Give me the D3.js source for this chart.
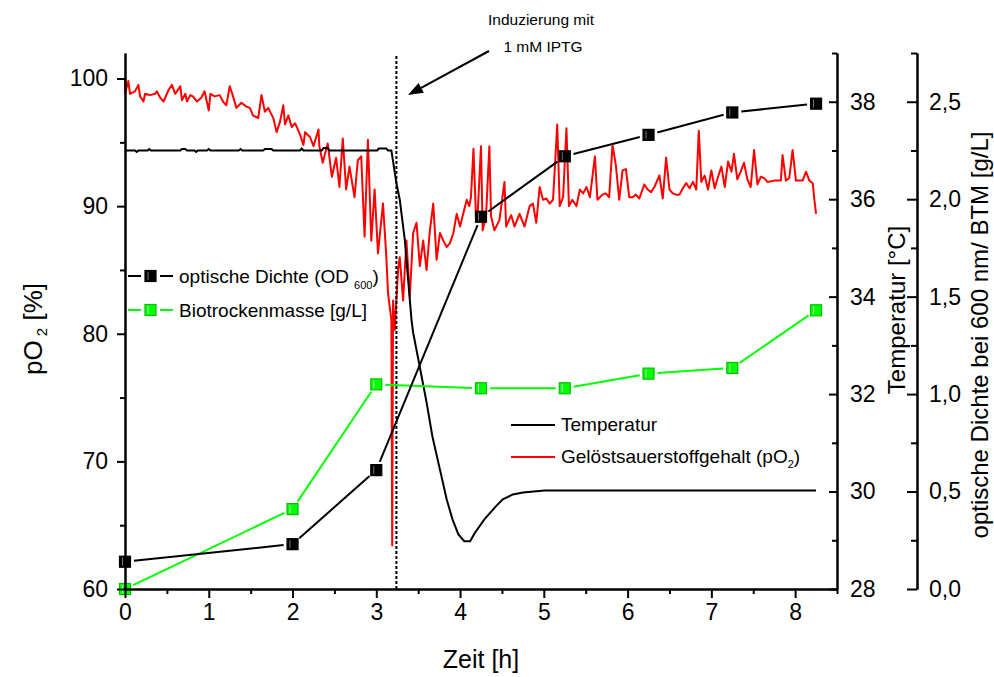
<!DOCTYPE html>
<html><head><meta charset="utf-8">
<script src="https://cdn.jsdelivr.net/npm/d3@7"></script>
<style>
body{margin:0;background:#fff}
svg{font-family:"Liberation Sans",Arial,sans-serif;display:block}
</style>
</head><body>
<svg id="chart" width="994" height="677"></svg>
<script>
// ---------- data ----------
const sampleTimes = [0, 2, 3, 4.25, 5.25, 6.25, 7.25, 8.25];
const odValues    = [0.14, 0.23, 0.61, 1.91, 2.22, 2.33, 2.445, 2.49];
const btmValues   = [0.0, 0.41, 1.05, 1.03, 1.03, 1.105, 1.134, 1.43];

const temperature = [
 [0,37.0],[0.12,37.0],[0.14,36.97],[0.16,37.0],[0.27,37.0],[0.29,37.03],[0.31,37.0],
 [0.66,37.0],[0.68,37.03],[0.72,37.03],[0.74,37.0],[0.83,37.0],[0.85,36.97],[0.87,37.0],
 [0.98,37.0],[1.0,37.03],[1.02,37.0],[1.36,37.0],[1.38,37.03],[1.40,37.0],
 [1.65,37.0],[1.67,37.03],[1.75,37.03],[1.77,37.0],[2.09,37.0],[2.11,37.04],[2.13,37.0],
 [2.35,37.0],[2.37,37.05],[2.42,37.05],[2.44,37.0],[3.01,37.0],[3.03,37.04],[3.12,37.04],[3.14,37.0],
 [3.18,37.0],[3.24,36.33],[3.28,35.99],[3.34,35.17],[3.40,33.94],[3.42,33.53],[3.44,33.26],
 [3.52,32.55],[3.60,31.83],[3.67,31.13],[3.76,30.45],[3.84,29.84],[3.91,29.43],[3.98,29.12],
 [4.05,28.98],[4.12,28.98],[4.18,29.16],[4.29,29.43],[4.43,29.70],[4.51,29.84],[4.63,29.94],
 [4.75,29.98],[5.01,30.02],[8.25,30.02]
];

const po2 = [
 [0,99.9],[0,98.8],[0.04,99.8],[0.06,98.8],[0.12,99.0],[0.16,99.5],[0.18,98.6],[0.22,98.2],
 [0.24,98.8],[0.30,98.7],[0.36,98.8],[0.38,99.0],[0.42,98.5],[0.46,98.2],[0.52,99.1],[0.56,99.5],
 [0.60,98.8],[0.66,99.4],[0.68,98.3],[0.72,98.8],[0.74,98.2],[0.78,98.7],[0.81,98.6],[0.86,98.2],
 [0.91,98.5],[0.95,99.0],[1.00,97.5],[1.02,98.8],[1.07,98.6],[1.13,98.7],[1.17,98.2],[1.21,97.9],
 [1.25,99.4],[1.29,98.6],[1.33,97.7],[1.39,98.1],[1.45,97.8],[1.49,97.7],[1.53,97.1],[1.59,96.9],
 [1.63,98.7],[1.67,97.4],[1.71,97.7],[1.77,96.9],[1.81,95.8],[1.85,96.6],[1.89,97.9],[1.91,96.4],
 [1.95,97.1],[1.99,96.2],[2.03,96.5],[2.09,95.6],[2.13,94.8],[2.15,95.8],[2.21,95.4],[2.25,94.7],
 [2.31,96.0],[2.32,94.7],[2.36,93.4],[2.42,94.9],[2.47,92.3],[2.52,93.8],[2.56,91.5],[2.60,95.3],
 [2.64,91.3],[2.68,93.1],[2.74,90.7],[2.78,93.6],[2.82,93.9],[2.86,87.6],[2.90,95.2],[2.94,87.3],
 [2.98,91.3],[3.02,86.3],[3.08,90.2],[3.12,86.0],[3.14,83.2],[3.16,82.1],[3.18,81.1],[3.19,63.4],
 [3.20,82.6],[3.22,80.3],[3.26,85.0],[3.28,86.0],[3.32,82.6],[3.36,87.3],[3.40,82.9],[3.44,87.9],
 [3.48,88.7],[3.52,85.3],[3.56,87.3],[3.60,85.0],[3.64,88.1],[3.68,90.2],[3.72,85.8],[3.76,87.9],
 [3.80,87.3],[3.84,86.8],[3.88,87.1],[3.92,87.9],[3.96,89.4],[4.00,88.4],[4.03,89.2],[4.08,90.5],
 [4.11,90.0],[4.13,90.7],[4.16,94.5],[4.19,89.2],[4.21,89.4],[4.25,94.7],[4.27,88.1],[4.31,89.2],
 [4.35,94.7],[4.37,89.2],[4.41,88.1],[4.47,88.9],[4.53,91.9],[4.55,88.4],[4.61,89.3],[4.65,88.4],
 [4.71,89.4],[4.77,88.4],[4.83,90.0],[4.87,90.2],[4.91,88.7],[4.95,91.5],[4.99,90.5],[5.03,90.6],
 [5.07,90.2],[5.11,90.5],[5.16,96.4],[5.19,90.0],[5.23,90.7],[5.27,96.1],[5.30,90.0],[5.34,90.5],
 [5.39,90.0],[5.43,91.3],[5.47,91.0],[5.51,91.5],[5.55,90.7],[5.61,93.9],[5.64,90.5],[5.70,90.9],
 [5.74,91.0],[5.78,90.7],[5.82,94.8],[5.86,93.2],[5.90,90.5],[5.94,92.8],[5.98,92.9],[6.02,90.7],
 [6.06,90.7],[6.10,90.9],[6.14,90.6],[6.20,91.7],[6.24,91.3],[6.28,91.1],[6.32,91.5],[6.38,92.4],
 [6.42,90.6],[6.46,93.8],[6.50,91.3],[6.54,91.0],[6.58,90.9],[6.62,90.9],[6.66,91.4],[6.70,91.8],
 [6.74,91.4],[6.78,91.9],[6.82,91.3],[6.85,95.9],[6.88,91.9],[6.92,92.4],[6.96,91.3],[7.00,92.8],
 [7.04,91.4],[7.08,92.3],[7.12,93.1],[7.16,91.5],[7.20,93.5],[7.24,92.7],[7.27,94.1],[7.31,92.1],
 [7.35,92.7],[7.39,93.4],[7.43,92.1],[7.47,91.5],[7.51,94.4],[7.55,91.7],[7.59,92.3],[7.63,92.2],
 [7.67,91.9],[7.75,92.0],[7.83,92.0],[7.85,94.0],[7.89,92.0],[7.93,92.2],[7.97,94.4],[8.01,92.0],
 [8.09,92.0],[8.13,92.7],[8.17,92.0],[8.21,91.8],[8.23,90.5],[8.25,89.4]
];

const inductionTime = 3.24;
const xMajorTicks = [0,1,2,3,4,5,6,7,8];
const xMinorTicks = [0.5,1.5,2.5,3.5,4.5,5.5,6.5,7.5,8.5];
const po2MajorTicks = [60,70,80,90,100];
const po2MinorTicks = [65,75,85,95];
const tempMajorTicks = [28,30,32,34,36,38];
const tempMinorTicks = [29,31,33,35,37,39];
const odMajorTicks = [0,0.5,1.0,1.5,2.0,2.5];
const odMinorTicks = [0.25,0.75,1.25,1.75,2.25,2.75];

// ---------- layout ----------
const svg = d3.select("#chart");
const L = 125, R = 837, T = 53, B = 589, ODX = 917;
const x = d3.scaleLinear([0, 8.5], [L, R]);
const yP = d3.scaleLinear([60, 102], [B, T]);
const yT = d3.scaleLinear([28, 39], [B, T]);
const yOD = d3.scaleLinear([0, 2.75], [B, T]);
const fmtComma = d => d3.format(".1f")(d).replace(".", ",");

const FONT_TICK = 23, FONT_TITLE = 26, FONT_LEG = 19;

function styleAxis(g, labels) {
  g.selectAll("path,line").attr("stroke", "#000").attr("stroke-width", 2);
  g.selectAll("text").attr("font-size", FONT_TICK).attr("fill", "#000")
   .attr("font-family", '"Liberation Sans",Arial,sans-serif');
  if (!labels) g.selectAll("text").remove();
  g.attr("font-family", null);
}

// ---------- curves ----------
const pLine = d3.line().x(d => x(d[0])).y(d => yP(d[1]));
svg.append("path").datum(po2).attr("d", pLine)
  .attr("fill", "none").attr("stroke", "#ff0000").attr("stroke-width", 2).attr("stroke-linejoin", "round");

const tLine = d3.line().x(d => x(d[0])).y(d => yT(d[1]));
svg.append("path").datum(temperature).attr("d", tLine)
  .attr("fill", "none").attr("stroke", "#000").attr("stroke-width", 2);

// induction line
svg.append("line").attr("x1", x(inductionTime)).attr("x2", x(inductionTime))
  .attr("y1", T + 3).attr("y2", B).attr("stroke", "#000").attr("stroke-width", 2)
  .attr("stroke-dasharray", "3,2");

// connected scatter with gaps at symbols
function gappedSeries(times, vals, yScale, color) {
  const pts = times.map((t, i) => [x(t), yScale(vals[i])]);
  const gap = 9;
  for (let i = 0; i < pts.length - 1; i++) {
    const [x1, y1] = pts[i], [x2, y2] = pts[i + 1];
    const len = Math.hypot(x2 - x1, y2 - y1);
    if (len <= 2 * gap) continue;
    const ux = (x2 - x1) / len, uy = (y2 - y1) / len;
    svg.append("line").attr("x1", x1 + ux * gap).attr("y1", y1 + uy * gap)
      .attr("x2", x2 - ux * gap).attr("y2", y2 - uy * gap)
      .attr("stroke", color).attr("stroke-width", 2);
  }
  pts.forEach(p => drawSquare(p[0], p[1], color));
}
function drawSquare(cx, cy, color) {
  const s = 11;
  svg.append("rect").attr("x", cx - s / 2).attr("y", cy - s / 2).attr("width", s).attr("height", s)
    .attr("fill", color).attr("stroke", color === "#000" ? "#000" : "#00c000").attr("stroke-width", 1.2);
  svg.append("line").attr("x1", cx - 2.5).attr("x2", cx - 2.5).attr("y1", cy - 4).attr("y2", cy + 4)
    .attr("stroke", color === "#000" ? "#777" : "#b8ffb8").attr("stroke-width", 1);
}
gappedSeries(sampleTimes, btmValues, yOD, "#00ff00");
gappedSeries(sampleTimes, odValues, yOD, "#000");

// ---------- axes ----------
const gx = svg.append("g").attr("transform", `translate(0,${B})`);
gx.call(d3.axisBottom(x).tickValues(xMajorTicks).tickSize(9).tickSizeOuter(0).tickPadding(6).tickFormat(d3.format("d")));
styleAxis(gx, true);
const gxm = svg.append("g").attr("transform", `translate(0,${B})`);
gxm.call(d3.axisBottom(x).tickValues(xMinorTicks).tickSize(5).tickSizeOuter(0));
styleAxis(gxm, false);

const gy = svg.append("g").attr("transform", `translate(${L},0)`);
gy.call(d3.axisLeft(yP).tickValues(po2MajorTicks).tickSize(8).tickSizeOuter(0).tickPadding(9).tickFormat(d3.format("d")));
styleAxis(gy, true);
const gym = svg.append("g").attr("transform", `translate(${L},0)`);
gym.call(d3.axisLeft(yP).tickValues(po2MinorTicks).tickSize(5).tickSizeOuter(0));
styleAxis(gym, false);

const gt = svg.append("g").attr("transform", `translate(${R},0)`);
gt.call(d3.axisRight(yT).tickValues(tempMajorTicks).tickSize(-8).tickSizeOuter(0).tickPadding(13).tickFormat(d3.format("d")));
styleAxis(gt, true);
const gtm = svg.append("g").attr("transform", `translate(${R},0)`);
gtm.call(d3.axisRight(yT).tickValues(tempMinorTicks).tickSize(-5).tickSizeOuter(0));
styleAxis(gtm, false);

const go = svg.append("g").attr("transform", `translate(${ODX},0)`);
go.call(d3.axisRight(yOD).tickValues(odMajorTicks).tickSize(-10).tickSizeOuter(0).tickPadding(12).tickFormat(fmtComma));
styleAxis(go, true);
const gom = svg.append("g").attr("transform", `translate(${ODX},0)`);
gom.call(d3.axisRight(yOD).tickValues(odMinorTicks).tickSize(-6).tickSizeOuter(0));
styleAxis(gom, false);

// ---------- titles ----------
svg.append("text").attr("x", 481).attr("y", 668).attr("text-anchor", "middle")
  .attr("font-size", 25).text("Zeit [h]");

const pt = svg.append("text").attr("transform", "translate(42,329) rotate(-90)")
  .attr("text-anchor", "middle").attr("font-size", FONT_TITLE);
pt.append("tspan").text("pO");
pt.append("tspan").attr("font-size", 15).attr("dy", 5).text(" 2");
pt.append("tspan").attr("dy", -5).text(" [%]");

svg.append("text").attr("transform", "translate(905,310) rotate(-90)")
  .attr("text-anchor", "middle").attr("font-size", FONT_TITLE - 2).text("Temperatur [°C]");

svg.append("text").attr("transform", "translate(988,335) rotate(-90)")
  .attr("text-anchor", "middle").attr("font-size", 24).text("optische Dichte bei 600 nm/ BTM [g/L]");

// ---------- legends ----------
function legendSym(y, color) {
  svg.append("line").attr("x1", 128).attr("x2", 141).attr("y1", y).attr("y2", y).attr("stroke", color).attr("stroke-width", 2);
  svg.append("line").attr("x1", 160).attr("x2", 173).attr("y1", y).attr("y2", y).attr("stroke", color).attr("stroke-width", 2);
  drawSquare(150.5, y, color);
}
legendSym(276, "#000");
const l1 = svg.append("text").attr("x", 179).attr("y", 283).attr("font-size", FONT_LEG);
l1.append("tspan").text("optische Dichte (OD");
l1.append("tspan").attr("font-size", 11).attr("dy", 6).attr("dx", 5).text("600");
l1.append("tspan").attr("dy", -6).text(")");
legendSym(310, "#00ff00");
svg.append("text").attr("x", 179).attr("y", 317).attr("font-size", FONT_LEG).text("Biotrockenmasse [g/L]");

svg.append("line").attr("x1", 511).attr("x2", 555).attr("y1", 425).attr("y2", 425).attr("stroke", "#000").attr("stroke-width", 2);
svg.append("text").attr("x", 561).attr("y", 431).attr("font-size", FONT_LEG).text("Temperatur");
svg.append("line").attr("x1", 511).attr("x2", 555).attr("y1", 457).attr("y2", 457).attr("stroke", "#ff0000").attr("stroke-width", 2);
const l4 = svg.append("text").attr("x", 561).attr("y", 463).attr("font-size", FONT_LEG);
l4.append("tspan").text("Gelöstsauerstoffgehalt (pO");
l4.append("tspan").attr("font-size", 11).attr("dy", 5).text("2");
l4.append("tspan").attr("dy", -5).text(")");

// ---------- annotation ----------
svg.append("text").attr("x", 541).attr("y", 25).attr("text-anchor", "middle").attr("font-size", 15.5).text("Induzierung mit");
svg.append("text").attr("x", 543).attr("y", 52).attr("text-anchor", "middle").attr("font-size", 15.5).text("1 mM IPTG");
const ax1 = 489, ay1 = 51, ax2 = 408, ay2 = 95;
const alen = Math.hypot(ax2 - ax1, ay2 - ay1), aux = (ax2 - ax1) / alen, auy = (ay2 - ay1) / alen;
const hl = 15, hw = 5.5;
const bx = ax2 - aux * hl, by = ay2 - auy * hl;
svg.append("line").attr("x1", ax1).attr("y1", ay1).attr("x2", bx).attr("y2", by).attr("stroke", "#000").attr("stroke-width", 2);
svg.append("path").attr("d", `M${ax2},${ay2}L${bx - auy * hw},${by + aux * hw}L${bx + auy * hw},${by - aux * hw}Z`).attr("fill", "#000");
</script>
</body></html>
